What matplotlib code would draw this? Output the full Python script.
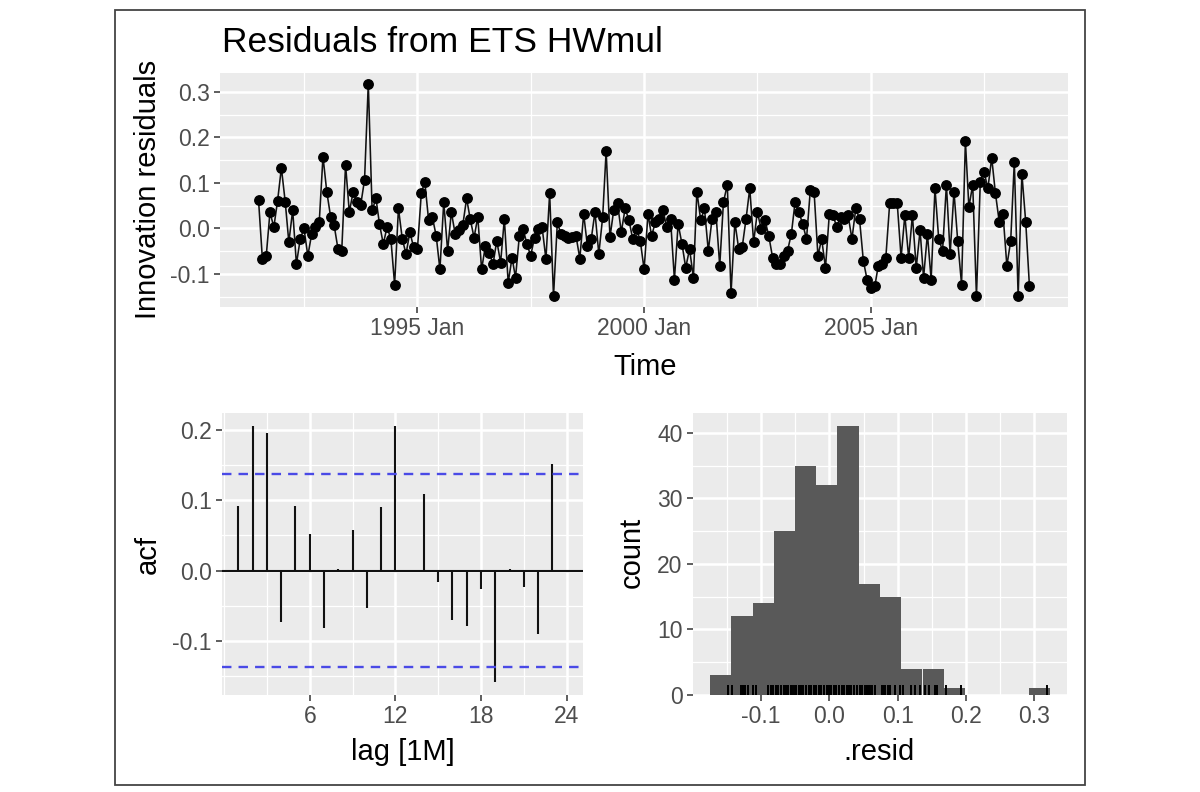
import matplotlib
matplotlib.use("Agg")
import matplotlib.pyplot as plt
import matplotlib.dates as mdates
import matplotlib.transforms as mtransforms
from matplotlib.patches import Rectangle
import pandas as pd

plt.rcParams['font.family'] = ['Liberation Sans', 'DejaVu Sans']

# -------------------------------
# DATA
# -------------------------------
resid = [
    0.062, -0.067, -0.060, 0.036, 0.003, 0.060, 0.133, 0.058, -0.030, 0.040,
    -0.078, -0.023, 0.000, -0.060, -0.012, 0.003, 0.014, 0.158, 0.080, 0.025,
    0.007, -0.045, -0.050, 0.140, 0.036, 0.080, 0.058, 0.052,
    0.107, 0.318, 0.040, 0.066, 0.010, -0.034, 0.003, -0.023, -0.123, 0.044,
    -0.023, -0.056, -0.008, -0.041, -0.045, 0.077, 0.103, 0.018, 0.025, -0.016,
    -0.090, 0.058, -0.049, 0.036, -0.012, -0.004, 0.007, 0.066, 0.021,
    -0.020, 0.025, -0.090, -0.038, -0.053, -0.078, -0.027, -0.075, 0.021, -0.119,
    -0.064, -0.108, -0.016, -0.001, -0.034, -0.060, -0.020, -0.001, 0.003, -0.067,
    0.077, -0.149, 0.014, -0.012, -0.016, -0.020, -0.019, -0.016, -0.066,
    0.032, -0.038, -0.023, 0.036, -0.056, 0.025, 0.170, -0.019, 0.040, 0.055,
    -0.008, 0.044, 0.018, -0.023, -0.001, -0.027, -0.090, 0.032, -0.016, 0.014,
    0.021, 0.040, 0.003, 0.020, -0.112, 0.010, -0.034, -0.086, -0.045,
    -0.108, 0.081, 0.018, 0.044, -0.049, 0.021, 0.036, -0.082, 0.058, 0.096,
    -0.142, 0.014, -0.045, -0.041, 0.021, 0.088, -0.030, 0.036, -0.001, 0.018,
    -0.016, -0.064, -0.078, -0.078, -0.060, -0.049, -0.012, 0.058, 0.036,
    0.010, -0.023, 0.085, 0.081, -0.060, -0.023, -0.086, 0.032, 0.029, 0.003,
    0.025, 0.021, 0.029, -0.023, 0.044, 0.021, -0.071, -0.112, -0.130, -0.127,
    -0.082, -0.078, -0.064, 0.055, 0.055, 0.055, -0.064, 0.029,
    -0.064, 0.029, -0.086, -0.004, -0.108, -0.012, -0.112, 0.088, -0.023, -0.049,
    0.096, -0.056, 0.081, -0.027, -0.123, 0.192, 0.047, 0.096, -0.149, 0.103,
    0.125, 0.088, 0.155, 0.077, 0.014, 0.032, -0.082, -0.027, 0.146, -0.149,
    0.120, 0.014, -0.127,
]
fechas = pd.date_range("1991-07-01", periods=len(resid), freq="MS")

acf_lags = list(range(1, 25))
acf_vals = [0.092, 0.206, 0.196, -0.073, 0.092, 0.052, -0.082, 0.002,
            0.058, -0.053, 0.090, 0.206, -0.002, 0.109, -0.016, -0.070,
            -0.079, -0.027, -0.159, 0.002, -0.023, -0.091, 0.152, 0.001]
acf_ci = 0.137

hist_counts = [3, 12, 14, 25, 35, 32, 41, 17, 15, 4, 4, 1, 0, 0, 0, 1]
hist_start = -0.1748
hist_width = 0.0311

# -------------------------------
# ESTILO ggplot
# -------------------------------
W, H = 1200, 792
fig = plt.figure(figsize=(12, 7.92), dpi=100)
fig.patch.set_facecolor('white')


def ejes(l, t, r, b):
    return fig.add_axes([l / W, 1 - b / H, (r - l) / W, (b - t) / H])


def gg(ax):
    ax.set_facecolor('#EBEBEB')
    for s in ax.spines.values():
        s.set_visible(False)
    ax.grid(which='major', color='white', lw=1.8)
    ax.grid(which='minor', color='white', lw=0.9)
    ax.set_axisbelow(True)
    ax.tick_params(which='major', length=4.5, width=1.1, color='#333333',
                   labelcolor='#4D4D4D', labelsize=16.5, pad=3)
    ax.tick_params(which='minor', length=0)


# -------------------------------
# RESIDUOS EN EL TIEMPO
# -------------------------------
ax1 = ejes(220, 73, 1068, 307)
gg(ax1)
ax1.plot(fechas, resid, color='#111111', lw=1.15)
ax1.plot(fechas, resid, 'o', color='black', ms=6.8)
ax1.margins(0.05)
mayores = pd.to_datetime(["1995-01-01", "2000-01-01", "2005-01-01"])
menores = pd.to_datetime(["1992-07-01", "1997-07-01", "2002-07-01", "2007-07-01"])
ax1.set_xticks(mdates.date2num(mayores))
ax1.set_xticklabels([d.strftime("%Y %b") for d in mayores])
ax1.set_xticks(mdates.date2num(menores), minor=True)
yt = [-0.1, 0.0, 0.1, 0.2, 0.3]
ax1.set_yticks(yt)
ax1.set_yticklabels([f"{v:.1f}" for v in yt])
ax1.set_yticks([-0.15, -0.05, 0.05, 0.15, 0.25], minor=True)

# -------------------------------
# ACF
# -------------------------------
ax2 = ejes(222, 413, 583, 695)
gg(ax2)
ax2.vlines(acf_lags, 0, acf_vals, color='#111111', lw=1.5)
ax2.axhline(0, color='#111111', lw=1.5)
ax2.axhline(acf_ci, color='#4A4AE6', lw=1.7, ls=(0, (4, 3)))
ax2.axhline(-acf_ci, color='#4A4AE6', lw=1.7, ls=(0, (4, 3)))
ax2.margins(0.05)
ax2.set_xticks([6, 12, 18, 24])
ax2.set_xticks([0, 3, 9, 15, 21], minor=True)
yt2 = [-0.1, 0.0, 0.1, 0.2]
ax2.set_yticks(yt2)
ax2.set_yticklabels([f"{v:.1f}" for v in yt2])
ax2.set_yticks([-0.15, -0.05, 0.05, 0.15], minor=True)

# -------------------------------
# HISTOGRAMA + RUG
# -------------------------------
ax3 = ejes(693, 413, 1067, 695)
gg(ax3)
bordes = [hist_start + i * hist_width for i in range(len(hist_counts))]
ax3.bar(bordes, hist_counts, width=hist_width, align='edge',
        color='#595959', lw=0)
ax3.margins(0.05)
ax3.autoscale_view()
ax3.set_xlim(ax3.get_xlim())
ax3.set_ylim(ax3.get_ylim())
ax3.set_autoscale_on(False)
trans = mtransforms.blended_transform_factory(ax3.transData, ax3.transAxes)
ax3.vlines(resid, 0, 0.035, transform=trans, color='black', lw=1.4)
xt3 = [-0.1, 0.0, 0.1, 0.2, 0.3]
ax3.set_xticks(xt3)
ax3.set_xticklabels([f"{v:.1f}" for v in xt3])
ax3.set_xticks([-0.15, -0.05, 0.05, 0.15, 0.25], minor=True)
ax3.set_yticks([0, 10, 20, 30, 40])
ax3.set_yticks([5, 15, 25, 35], minor=True)

# -------------------------------
# TEXTOS
# -------------------------------
fig.text(222 / W, 1 - 42 / H, "Residuals from ETS HWmul", fontsize=25.5,
         ha='left', va='center')
fig.text(148 / W, 1 - 189 / H, "Innovation residuals", fontsize=21,
         rotation=90, ha='center', va='center')
fig.text(645 / W, 1 - 367 / H, "Time", fontsize=21, ha='center', va='center')
fig.text(148 / W, 1 - 554 / H, "acf", fontsize=21, rotation=90,
         ha='center', va='center')
fig.text(403 / W, 1 - 752 / H, "lag [1M]", fontsize=21, ha='center', va='center')
fig.text(632 / W, 1 - 552 / H, "count", fontsize=21, rotation=90,
         ha='center', va='center')
fig.text(879 / W, 1 - 752 / H, ".resid", fontsize=21, ha='center', va='center')

# marco exterior
fig.patches.append(Rectangle((115 / W, 1 - 785 / H), (1085 - 115) / W,
                             (785 - 10) / H, transform=fig.transFigure,
                             fill=False, edgecolor='#444444', lw=1.3))

fig.savefig("out.png", dpi=100)
